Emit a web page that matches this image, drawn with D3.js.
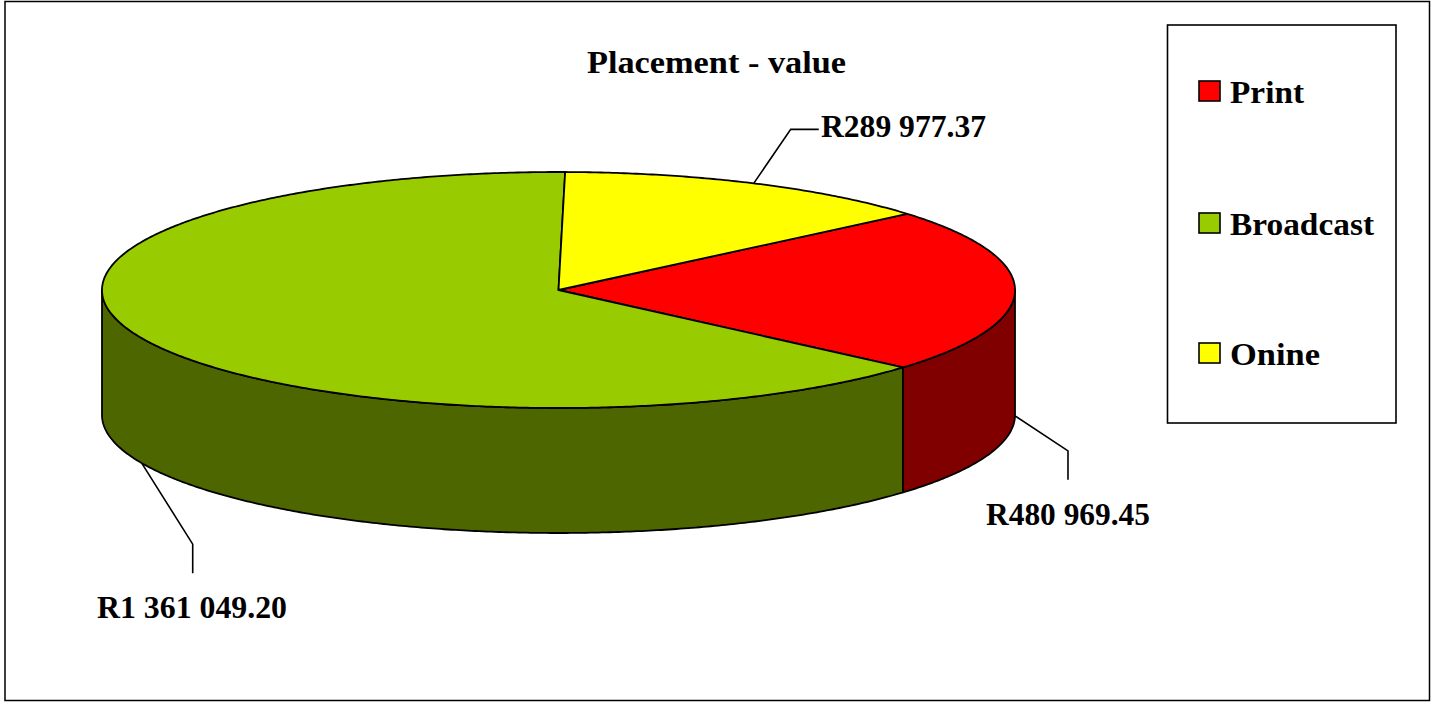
<!DOCTYPE html>
<html>
<head>
<meta charset="utf-8">
<style>
  html, body { margin: 0; padding: 0; background: #fff; }
  svg { display: block; }
  text { font-family: "Liberation Serif", serif; font-weight: bold; fill: #000; }
</style>
<script src="https://cdn.jsdelivr.net/npm/d3@7"></script>
</head>
<body>
<svg id="chart" width="1437" height="702"></svg>
<script>
const categories = ['Print', 'Broadcast', 'Onine'];
const values = [480969.45, 1361049.20, 289977.37];
const valueLabels = ['R480 969.45', 'R1 361 049.20', 'R289 977.37'];
const chartTitle = 'Placement - value';

const topColors = ['#ff0000', '#99cc00', '#ffff00'];
const sideColors = ['#800000', '#4d6600', '#808000'];

// Pie geometry, the tilted disc is an ellipse
const cx = 558.5, cy = 290, rx = 456.5, ry = 118, depth = 125;

// Leader elbows (relative to the rim point) and label placement, same order as categories
const leaders = [
  { elbow: [53, 35], end: [53, 64], x: 986, y: 525, w: 164 },
  { elbow: [51, 81], end: [51, 110], x: 97, y: 618, w: 190 },
  { elbow: [37, -54], end: [65, -54], x: 821, y: 137, w: 165 }
];
const legendRows = [
  { swatchY: 81, textY: 103, w: 74 },
  { swatchY: 213, textY: 235, w: 144 },
  { swatchY: 343, textY: 365, w: 90 }
];

const svg = d3.select('#chart');
const rad = d => d * Math.PI / 180;

const px = a => cx + rx * Math.sin(a);
const py = (a, dy = 0) => cy - ry * Math.cos(a) + dy;

const arcs = d3.pie().sort(null).startAngle(rad(49.8)).endAngle(rad(409.8))(values);

// Sample an angle range into rim points
function rim(a0, a1, dy = 0) {
  const n = Math.max(2, Math.ceil(Math.abs(a1 - a0) / rad(0.5)));
  return d3.range(n + 1).map(i => {
    const a = a0 + (a1 - a0) * i / n;
    return [px(a), py(a, dy)];
  });
}

const line = d3.line();

// Outer frame
svg.append('rect')
  .attr('x', 5).attr('y', 1.5).attr('width', 1424.5).attr('height', 699)
  .attr('fill', '#fff').attr('stroke', '#000').attr('stroke-width', 1.5);

// Side walls, only the front half of the disc shows
const front0 = rad(90), front1 = rad(270);
arcs.forEach(d => {
  const a0 = Math.max(d.startAngle, front0);
  const a1 = Math.min(d.endAngle, front1);
  if (a1 <= a0) return;
  const pts = rim(a0, a1).concat(rim(a1, a0, depth));
  svg.append('path')
    .attr('d', line(pts) + 'Z')
    .attr('fill', sideColors[d.index])
    .attr('stroke', '#000').attr('stroke-width', 1.8)
    .attr('stroke-linejoin', 'round');
});

// Top slices
arcs.forEach(d => {
  const pts = [[cx, cy]].concat(rim(d.startAngle, d.endAngle));
  svg.append('path')
    .attr('d', line(pts) + 'Z')
    .attr('fill', topColors[d.index])
    .attr('stroke', '#000').attr('stroke-width', 1.8)
    .attr('stroke-linejoin', 'round');
});

// Leader lines from the middle of each slice
arcs.forEach(d => {
  const mid = (d.startAngle + d.endAngle) / 2;
  const front = Math.cos(mid) <= 0;
  const x0 = px(mid), y0 = py(mid, front ? depth : 0);
  const l = leaders[d.index];
  svg.append('path')
    .attr('d', line([[x0, y0], [x0 + l.elbow[0], y0 + l.elbow[1]], [x0 + l.end[0], y0 + l.end[1]]]))
    .attr('fill', 'none').attr('stroke', '#000').attr('stroke-width', 1.6);

  svg.append('text')
    .attr('x', l.x).attr('y', l.y)
    .attr('font-size', 31)
    .attr('textLength', l.w).attr('lengthAdjust', 'spacingAndGlyphs')
    .text(valueLabels[d.index]);
});

// Title
svg.append('text')
  .attr('x', 587).attr('y', 73)
  .attr('font-size', 31)
  .attr('textLength', 259).attr('lengthAdjust', 'spacingAndGlyphs')
  .text(chartTitle);

// Legend
svg.append('rect')
  .attr('x', 1167.5).attr('y', 25).attr('width', 228.5).attr('height', 398)
  .attr('fill', '#fff').attr('stroke', '#000').attr('stroke-width', 1.6);

categories.forEach((c, i) => {
  const row = legendRows[i];
  svg.append('rect')
    .attr('x', 1199).attr('y', row.swatchY).attr('width', 21).attr('height', 20)
    .attr('fill', topColors[i]).attr('stroke', '#000').attr('stroke-width', 1.6);
  svg.append('text')
    .attr('x', 1230).attr('y', row.textY)
    .attr('font-size', 31)
    .attr('textLength', row.w).attr('lengthAdjust', 'spacingAndGlyphs')
    .text(c);
});
</script>
</body>
</html>
